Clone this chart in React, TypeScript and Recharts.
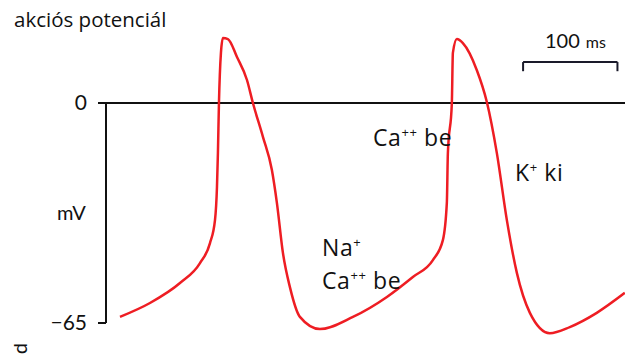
import { LineChart, Line, XAxis, YAxis, ReferenceLine } from 'recharts';

// time (ms) and membrane potential (mV)
const timeMs = [
  14.8, 46.6, 78.4, 99.6, 110.2, 115.5, 117.6, 118.6, 119.7, 121.8, 123.9, 129.2, 138.8, 149.4,
  155.7, 166.3, 175.8, 181.1, 187.5, 194.9, 205.5, 226.7, 261.7, 297.7, 325.2, 346.4, 357,
  361.2, 362.3, 366.5, 367.6, 371.8, 378.2, 393, 403.6, 414.2, 424.8, 435.4, 449.2, 470.3,
  491.5, 520.1, 549.8,
];
const membraneMv = [
  -63.2, -59.1, -53.2, -47.3, -41.4, -34.6, -24.8, -14.8, 0, 14.8, 19.2, 18.9, 13.6, 6.8,
  0, -10, -19.8, -29.5, -44.3, -54.4, -63.2, -66.8, -63.2, -57.3, -51.4, -46.4, -40.5,
  -29.5, -14.8, 0, 14.8, 18.9, 17.7, 9.7, 0.3, -14.8, -34.6, -50.2, -62, -68,
  -66.2, -62, -56.1,
];
const yTicks = [0, -65];
// 100 ms scale bar
const scaleStart = 442;
const scaleLength = 100;
const scaleLevel = 12.1;
const scaleHook = 9.4;

const data = timeMs.map((t, i) => ({ t, v: membraneMv[i] }));

const labelFont = '"Open Sans", sans-serif';
const axisFont = 'Lato, sans-serif';

export default function App() {
  return (
    <div style={{ position: 'absolute', left: 0, top: 0, width: 625, height: 358, background: '#fff' }}>
      <LineChart width={625} height={358} data={data} margin={{ top: 1.5, right: 0, bottom: 18.1, left: 46 }}>
        <XAxis dataKey="t" type="number" domain={[0, 550]} hide />
        <YAxis
          type="number"
          domain={[-70, 30]}
          ticks={yTicks}
          width={60}
          axisLine={false}
          tickSize={8}
          tickMargin={11}
          tickLine={{ stroke: '#111', strokeWidth: 2 }}
          tick={{ fill: '#111', fontSize: 21, fontFamily: axisFont }}
          tickFormatter={(v) => (v < 0 ? `\u2212${Math.abs(v)}` : `${v}`)}
        />
        <ReferenceLine y={0} stroke="#111" strokeWidth={2} />
        <ReferenceLine segment={[{ x: 0, y: 0 }, { x: 0, y: -65 }]} stroke="#111" strokeWidth={2} />
        <ReferenceLine
          segment={[{ x: scaleStart, y: scaleLevel }, { x: scaleStart + scaleLength, y: scaleLevel }]}
          stroke="#1a1a2a"
          strokeWidth={2}
        />
        <ReferenceLine
          segment={[{ x: scaleStart, y: scaleLevel }, { x: scaleStart, y: scaleHook }]}
          stroke="#1a1a2a"
          strokeWidth={2}
        />
        <ReferenceLine
          segment={[{ x: scaleStart + scaleLength, y: scaleLevel }, { x: scaleStart + scaleLength, y: scaleHook }]}
          stroke="#1a1a2a"
          strokeWidth={2}
        />
        <Line
          type="monotoneX"
          dataKey="v"
          stroke="#ee1d23"
          strokeWidth={2.5}
          dot={false}
          isAnimationActive={false}
        />
      </LineChart>
      <svg width={625} height={358} style={{ position: 'absolute', left: 0, top: 0, pointerEvents: 'none' }}>
        <text x={14} y={27} fontSize={20.5} fontFamily={labelFont} fill="#111">akciós potenciál</text>
        <text x={57} y={220} fontSize={20} fontFamily={axisFont} fill="#111">mV</text>
        <text x={545} y={48} fontFamily={axisFont} fill="#111">
          <tspan fontSize={20}>100</tspan>
          <tspan fontSize={16} dx={6}>ms</tspan>
        </text>
        <text x={373} y={146} fontSize={23} letterSpacing={0.6} fontFamily={labelFont} fill="#111">
          Ca<tspan fontSize={13} dy={-9}>++</tspan>
          <tspan dy={9}> be</tspan>
        </text>
        <text x={515} y={181} fontSize={23} letterSpacing={0.6} fontFamily={labelFont} fill="#111">
          K<tspan fontSize={13} dy={-9}>+</tspan>
          <tspan dy={9}> ki</tspan>
        </text>
        <text x={322} y={256} fontSize={23} letterSpacing={0.6} fontFamily={labelFont} fill="#111">
          Na<tspan fontSize={13} dy={-9}>+</tspan>
        </text>
        <text x={322} y={289} fontSize={23} letterSpacing={0.6} fontFamily={labelFont} fill="#111">
          Ca<tspan fontSize={13} dy={-9}>++</tspan>
          <tspan dy={9}> be</tspan>
        </text>
        <text x={0} y={0} fontSize={20} fontFamily={axisFont} fill="#111" transform="translate(17 343) rotate(90)">p</text>
      </svg>
    </div>
  );
}
